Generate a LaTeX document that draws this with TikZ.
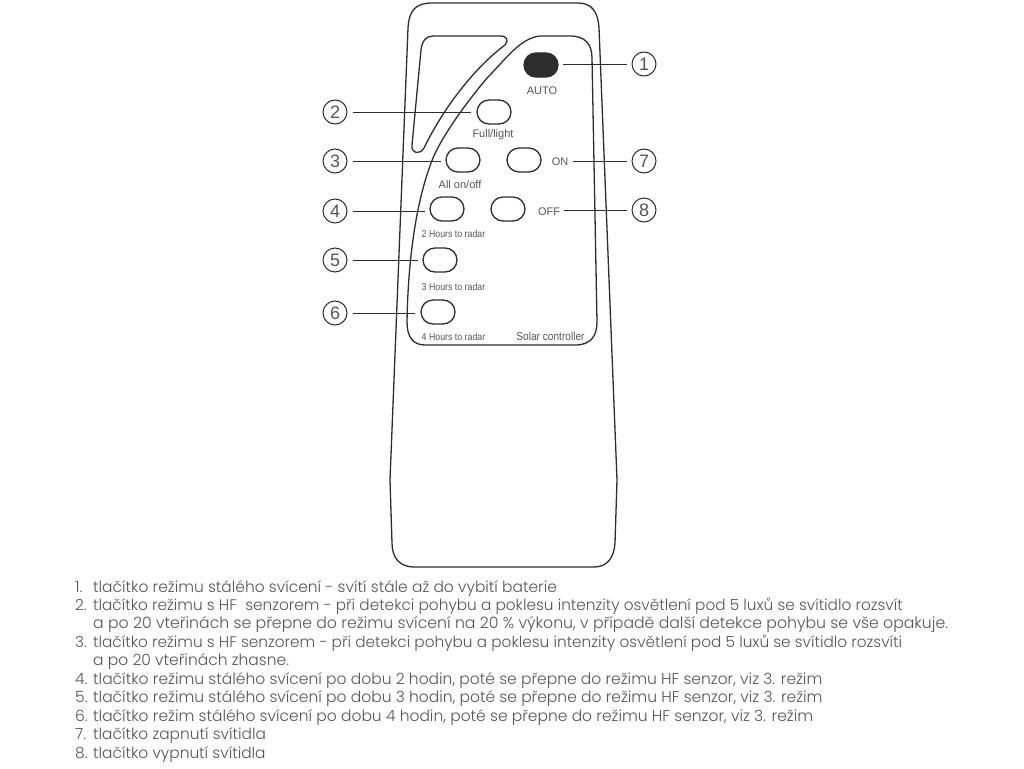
\documentclass[tikz,border=0pt]{standalone}
\usepackage{fontspec}
\usepackage{graphicx}
\usepackage{tikz}
\usetikzlibrary{shapes.misc}
\setmainfont{Poppins Light}
\newfontfamily\labelfont{Liberation Sans}
\definecolor{inkgray}{RGB}{45,45,45}
\definecolor{textgray}{RGB}{85,85,85}
\newcommand{\bouton}[3]{\node[btn,#3] (#1) at (#2) {}}
\newcommand{\repere}[3]{\node[numcircle] (#1) at (#2) {#3}}
\newcommand{\etiq}[3]{\node[lbl] at (#1) {\fontsize{#2}{#2}\selectfont #3}}
\newcommand{\etiqc}[3]{\node[lbl] at (#1) {\scalebox{0.88}[1]{\fontsize{#2}{#2}\selectfont #3}}}
\newcommand{\ligne}[5]{\node[listline] (#1) at (#2) {\fontsize{#3}{#3}\selectfont\makebox[18pt][l]{#4}#5}}
\tikzset{
	epais/.style={draw=inkgray,line width=1.3pt},
	btn/.style={epais,rounded rectangle,minimum width=34pt,minimum height=24pt,inner sep=0pt,outer sep=0pt},
	numcircle/.style={draw=inkgray,line width=1pt,circle,minimum size=24pt,inner sep=0pt,text=textgray,font=\labelfont\fontsize{18}{18}\selectfont},
	lbl/.style={inner sep=0pt,text=textgray,font=\labelfont},
	leader/.style={draw=inkgray,line width=1pt,shorten <=5pt},
	listline/.style={anchor=base west,inner sep=0pt,text=textgray},
}

\begin{document}
\begin{tikzpicture}[x=1pt,y=-1pt]
	\useasboundingbox (0,0) rectangle (1024,768);
%
	\draw[epais] (408,28) .. controls (409,10) and (416,3) .. (432,3) -- (578,3)
		.. controls (592,3) and (598,12) .. (599,28) -- (617,480) -- (615,543)
		.. controls (614,558) and (607,567) .. (594,567) -- (414,567)
		.. controls (400,567) and (392,558) .. (392,543) -- (390,480) -- cycle;
	\draw[epais] (421,50) .. controls (422,41) and (426,36) .. (433,36) -- (500,36)
		.. controls (507,36) and (509,40) .. (505,45)
		.. controls (478,65) and (446,103) .. (424,148)
		.. controls (420,155) and (411,154) .. (412,145) -- cycle;
	\draw[epais] (407,322) .. controls (408,260) and (416,200) .. (433,158)
		.. controls (445,130) and (475,92) .. (488,77)
		.. controls (505,60) and (520,38) .. (540,36) -- (570,36)
		.. controls (585,36) and (592,44) .. (592,58) -- (597,322)
		.. controls (597,337) and (590,345) .. (575,345) -- (425,345)
		.. controls (413,345) and (407,337) .. (407,322) -- cycle;
%
	\bouton{auto}{541,65}{fill=inkgray};
	\bouton{full}{494,112}{};
	\bouton{allon}{463,160}{};
	\bouton{on}{524,160}{};
	\bouton{twoh}{447,209}{};
	\bouton{off}{508,209}{};
	\bouton{threeh}{440,260}{};
	\bouton{fourh}{438,312}{};
%
	\etiq{542,90.5}{11}{AUTO};
	\etiq{493,135}{11}{Full/light};
	\etiq{460,184.5}{11}{All on/off};
	\etiq{560,162}{11}{ON};
	\etiq{549,211.5}{11}{OFF};
	\etiqc{453.5,233.5}{10}{2 Hours to radar};
	\etiqc{453.5,286.5}{10}{3 Hours to radar};
	\etiqc{453.5,336.5}{10}{4 Hours to radar};
	\etiqc{550.5,336.5}{11.5}{Solar controller};
%
	\repere{n1}{644,64}{1};
	\repere{n2}{335,112}{2};
	\repere{n3}{335,161}{3};
	\repere{n4}{335,211}{4};
	\repere{n5}{335,260}{5};
	\repere{n6}{335,313}{6};
	\repere{n7}{644,161}{7};
	\repere{n8}{644,210}{8};
%
	\coordinate (e1) at (563,64);
	\coordinate (e2) at (471,112);
	\coordinate (e3) at (441,161);
	\coordinate (e4) at (425,211);
	\coordinate (e5) at (418,260);
	\coordinate (e6) at (415,313);
	\coordinate (e7) at (573,161);
	\coordinate (e8) at (564,210);
	\foreach \i in {1,...,8}
		\draw[leader] (n\i) -- (e\i);
%
	\ligne{t1}{75,592}{15.45}{1.}{tlačítko režimu stálého svícení - svítí stále až do vybití baterie};
	\ligne{t2}{75,610}{15.3}{2.}{tlačítko režimu s HF\ \ senzorem - při detekci pohybu a poklesu intenzity osvětlení pod 5 luxů se svítidlo rozsvít};
	\ligne{t3}{75,628}{15.7}{}{a po 20 vteřinách se přepne do režimu svícení na 20 \% výkonu, v případě další detekce pohybu se vše opakuje.};
	\ligne{t4}{75,647}{15.3}{3.}{tlačítko režimu s HF senzorem - při detekci pohybu a poklesu intenzity osvětlení pod 5 luxů se svítidlo rozsvíti};
	\ligne{t5}{75,665}{15.5}{}{a po 20 vteřinách zhasne.};
	\ligne{t6}{75,684}{15.5}{4.}{tlačítko režimu stálého svícení po dobu 2 hodin, poté se přepne do režimu HF senzor, viz 3. režim};
	\ligne{t7}{75,702}{15.5}{5.}{tlačítko režimu stálého svícení po dobu 3 hodin, poté se přepne do režimu HF senzor, viz 3. režim};
	\ligne{t8}{75,721}{15.5}{6.}{tlačítko režim stálého svícení po dobu 4 hodin, poté se přepne do režimu HF senzor, viz 3. režim};
	\ligne{t9}{75,739}{15.4}{7.}{tlačítko zapnutí svítidla};
	\ligne{t10}{75,758}{15.4}{8.}{tlačítko vypnutí svítidla};
%
\end{tikzpicture}
\end{document}
